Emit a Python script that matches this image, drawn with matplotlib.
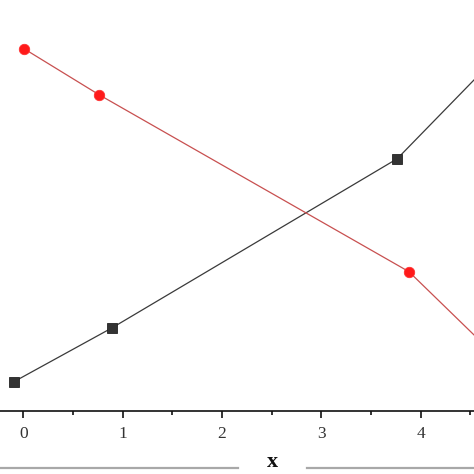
import matplotlib
matplotlib.use("Agg")
import matplotlib.pyplot as plt
from matplotlib.lines import Line2D
from matplotlib.ticker import MultipleLocator

# Data (last points lie beyond the visible area)
black_x = [-0.094, 0.896, 3.764, 5.0]
black_y = [0.29, 0.83, 2.52, 3.78]
red_x = [0.007, 0.762, 3.882, 5.0]
red_y = [3.62, 3.16, 1.39, 0.31]
xticks = [0, 1, 2, 3, 4]
xlabel = "x"

W = H = 474
fig = plt.figure(figsize=(4.74, 4.74), dpi=100)
ax = fig.add_axes([0, 1 - 410.7 / H, 1, 410.7 / H])
ax.set_xlim(-0.2345, 4.5365)
ax.set_ylim(0, 4.107)

ax.plot(black_x, black_y, color="#3a3a3a", lw=0.9, marker="s", ms=7,
        mfc="#333333", mec="#222222", mew=0.6, zorder=3)
ax.plot(red_x, red_y, color="#c85050", lw=0.9, marker="o", ms=7.5,
        mfc="#ff1a1a", mec="#ff3030", mew=0.6, zorder=3)

for s in ["top", "left", "right"]:
    ax.spines[s].set_visible(False)
ax.spines["bottom"].set_linewidth(1.2)
ax.spines["bottom"].set_color("#111111")
ax.set_yticks([])
ax.set_xticks(xticks)
ax.set_xticklabels([str(t) for t in xticks], fontfamily="Liberation Serif",
                   fontsize=12.5, color="#333333")
ax.xaxis.set_minor_locator(MultipleLocator(0.5))
ax.tick_params(axis="x", which="major", direction="out", length=5, width=1.2,
               pad=6, color="#111111")
ax.tick_params(axis="x", which="minor", direction="out", length=3, width=1.2,
               color="#111111")

# bottom gray rule with the axis title
fig.add_artist(Line2D([0, 238 / W], [1 - 468 / H] * 2, color="#a8a8a8", lw=1.6))
fig.add_artist(Line2D([307 / W, 1], [1 - 468 / H] * 2, color="#a8a8a8", lw=1.6))
fig.text(272 / W, 1 - 462 / H, xlabel, ha="center", va="center",
         fontfamily="Liberation Serif", fontweight="bold", fontsize=16, color="#111111")

fig.savefig("out.png", dpi=100)
